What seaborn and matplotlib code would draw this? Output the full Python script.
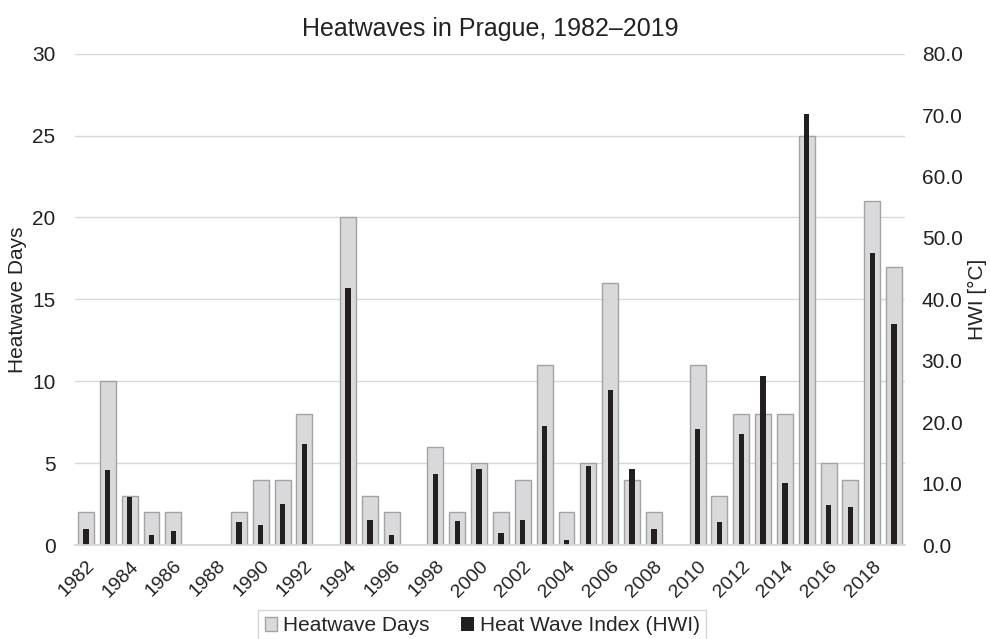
import matplotlib
matplotlib.use("Agg")
import matplotlib.pyplot as plt
import seaborn as sns
import pandas as pd

years = list(range(1982, 2020))
heatwave_days = [2, 10, 3, 2, 2, 0, 0, 2, 4, 4, 8, 0, 20, 3, 2, 0, 6, 2, 5, 2,
                 4, 11, 2, 5, 16, 4, 2, 0, 11, 3, 8, 8, 8, 25, 5, 4, 21, 17]
hwi = [2.6, 12.2, 7.8, 1.6, 2.3, 0.0, 0.0, 3.7, 3.3, 6.7, 16.5, 0.0, 41.8, 4.0, 1.7, 0.0,
       11.6, 3.9, 12.4, 1.9, 4.1, 19.4, 0.9, 12.9, 25.3, 12.4, 2.6, 0.0, 18.9, 3.8,
       18.1, 27.6, 10.1, 70.2, 6.5, 6.2, 47.5, 36.0]
tick_labels = [str(y) for y in years[::2]]

df = pd.DataFrame({"year": [str(y) for y in years], "days": heatwave_days, "hwi": hwi})

sns.set_theme(style="white")
plt.rcParams['font.family'] = ['Liberation Sans', 'DejaVu Sans']

fig = plt.figure(figsize=(9.9, 6.39), dpi=100)
ax = fig.add_axes([0.0758, 0.147, 0.8384, 0.769])

gray = "#d9d9db"
sns.barplot(data=df, x="year", y="days", ax=ax, color=gray, width=0.73,
            edgecolor="#a3a3a3", linewidth=1.0, saturation=1)
ax.set_axisbelow(True)
ax2 = ax.twinx()
sns.barplot(data=df, x="year", y="hwi", ax=ax2, color="#231f20", width=0.245,
            edgecolor="none", saturation=1)

ax.set_xlim(-0.5, len(years) - 0.5)
ax.set_ylim(0, 30)
ax2.set_ylim(0, 80)
ax.set_yticks([0, 5, 10, 15, 20, 25, 30])
ax2.set_yticks(range(0, 81, 10))
ax2.set_yticklabels([f"{v:.1f}" for v in range(0, 81, 10)])
ax.set_xticks(range(0, len(years), 2))
ax.set_xticklabels(tick_labels, rotation=45, ha="right", rotation_mode="anchor")

ax.grid(axis="y", color="#d9d9d9", linewidth=1.0)
ax2.grid(False)
for a in (ax, ax2):
    for s in ("top", "left", "right"):
        a.spines[s].set_visible(False)
    a.spines["bottom"].set_color("#d9d9d9")
    a.tick_params(length=0)
ax.tick_params(axis="y", labelsize=15, pad=14, colors="#222222")
ax.tick_params(axis="x", labelsize=14, pad=9, colors="#222222")
ax2.tick_params(axis="y", labelsize=15, pad=12, colors="#222222")

ax.set_xlabel("")
ax.set_ylabel("Heatwave Days", fontsize=15, color="#222222", labelpad=4)
ax2.set_ylabel("HWI [°C]", fontsize=15, color="#222222", labelpad=4)
ax.set_title("Heatwaves in Prague, 1982–2019", fontsize=18, color="#222222", pad=13)

h1 = ax.patches[0]
h2 = ax2.patches[0]
leg = fig.legend([h1, h2], ["Heatwave Days", "Heat Wave Index (HWI)"],
                 loc="lower center", bbox_to_anchor=(0.487, -0.004), ncol=2,
                 fontsize=15, frameon=True, fancybox=False, handlelength=0.6,
                 handleheight=0.6, handletextpad=0.3, columnspacing=1.5,
                 borderpad=0.3, borderaxespad=0.0)
leg.get_frame().set_edgecolor("#cccccc")
leg.get_frame().set_linewidth(1.0)

fig.savefig("out.png", dpi=100)
